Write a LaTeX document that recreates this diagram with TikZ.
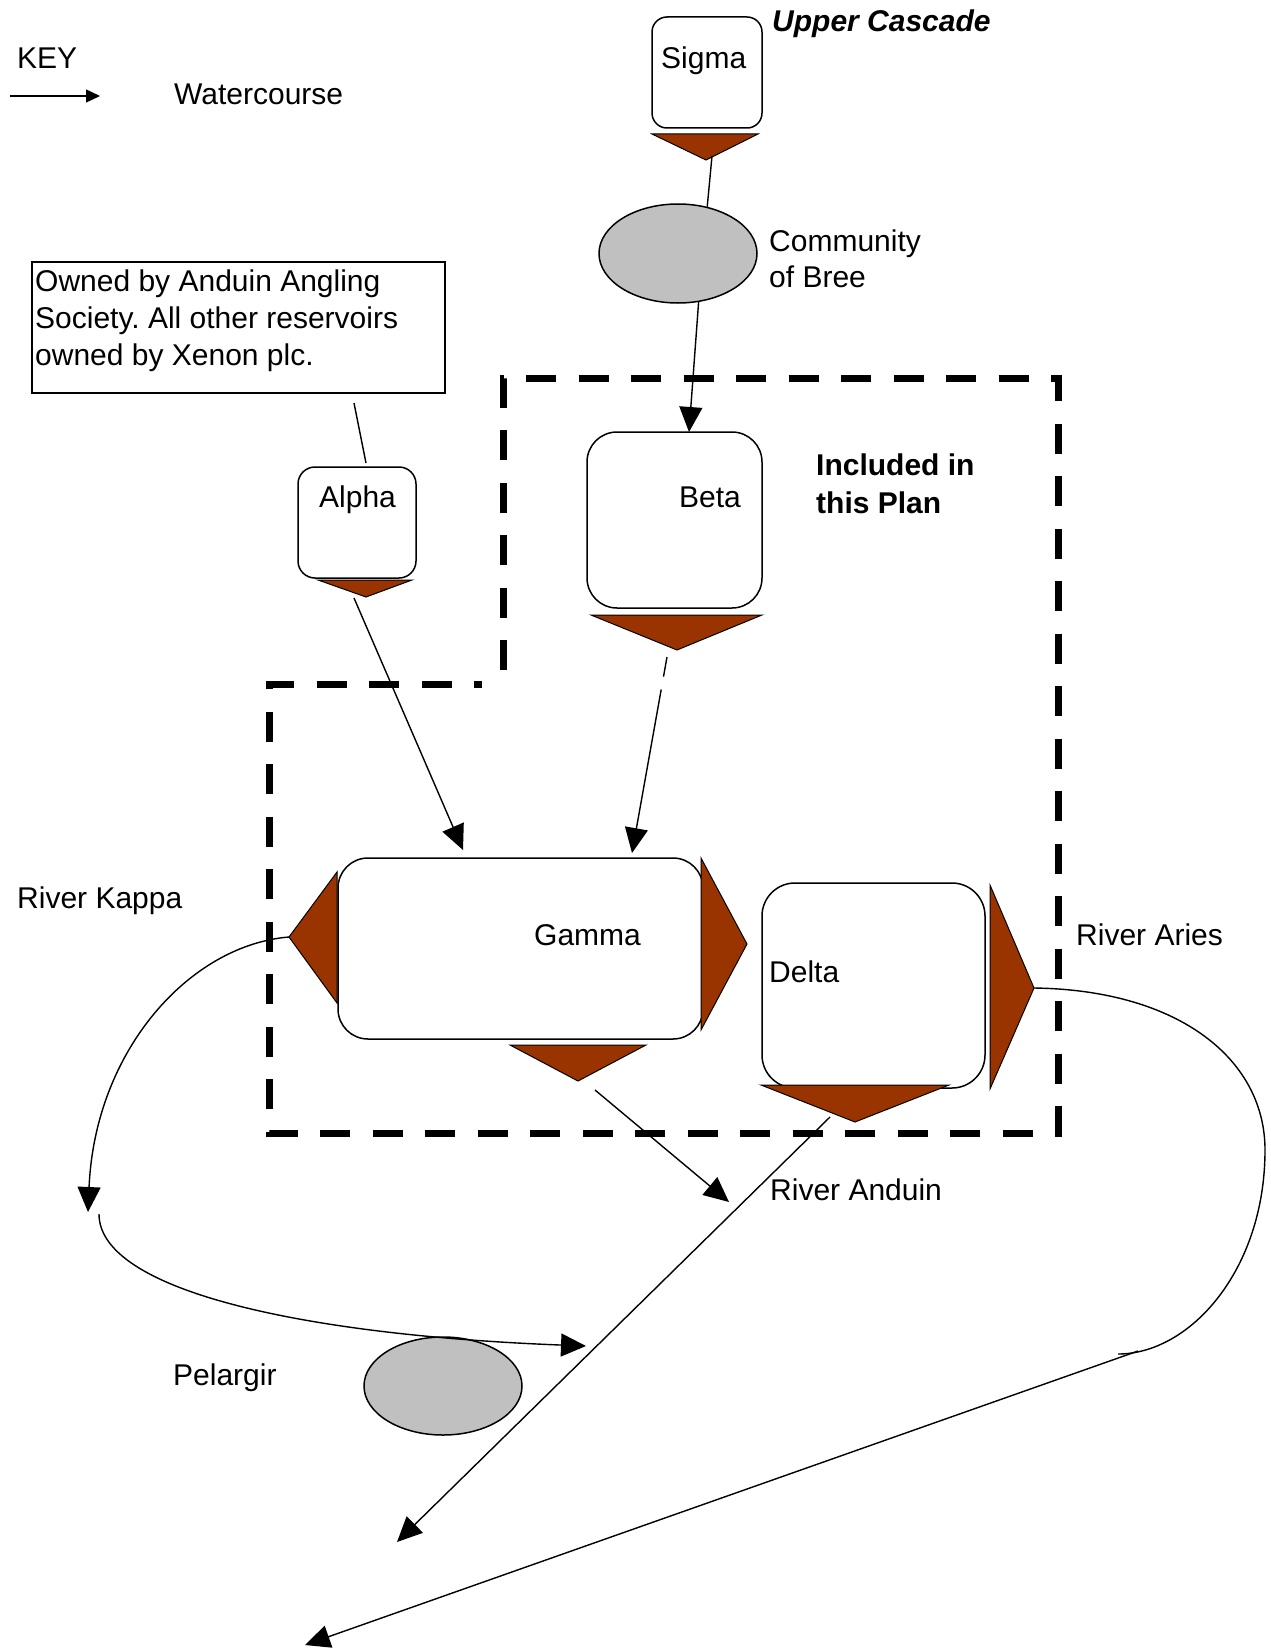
\documentclass[tikz,border=0pt]{standalone}
\usepackage{fontspec}
\setmainfont{Liberation Sans}
\usetikzlibrary{arrows.meta,shapes.geometric}
\definecolor{rust}{RGB}{153,51,0}
\definecolor{pondgrey}{RGB}{192,192,192}
\frenchspacing
\begin{document}
\begin{tikzpicture}[x=1pt,y=-1pt,
  lbl/.style={anchor=base west, inner sep=0pt, font=\fontsize{30}{36}\selectfont},
  rbox/.style={draw, line width=1.5pt, fill=white, inner sep=0pt},
  tri/.style={draw=black, line width=1pt, fill=rust, line join=miter},
  flow/.style={line width=1.4pt, -{Triangle[length=25pt,width=23pt]}},
  link/.style={line width=1.4pt},
  pond/.style={ellipse, draw, line width=1.5pt, fill=pondgrey, inner sep=0pt},
  zone/.style={line width=7pt, dash pattern=on 30pt off 22.5pt},
]
\useasboundingbox (0,0) rectangle (1270,1648);

% dashed plan boundary
\draw[zone] (503,670) -- (503,378) -- (1058,378) -- (1058,1133) -- (269,1133) -- (269,684) -- (482,684);

% key
\node[lbl] (key) at (17,69) {KEY};
\coordinate (keya) at (10,96);
\coordinate (keyb) at (100,96);
\draw[line width=1.4pt, -{Triangle[length=14pt,width=13pt]}] (keya) -- (keyb);
\node[lbl] (wc) at (174,105) {Watercourse};

% reservoirs
\node[rbox, rounded corners=15pt, minimum width=110pt, minimum height=111pt] (sigma) at (707,72.5) {};
\node[rbox, rounded corners=17pt, minimum width=118pt, minimum height=111pt] (alpha) at (357,522.5) {};
\node[rbox, rounded corners=30pt, minimum width=175pt, minimum height=176pt] (beta) at (674.5,520) {};
\node[rbox, rounded corners=30pt, minimum width=365pt, minimum height=181pt] (gamma) at (520.5,948.5) {};
\node[rbox, rounded corners=33pt, minimum width=223pt, minimum height=205pt] (delta) at (873.5,985.5) {};

% outlet triangles
\draw[tri] (652,134) -- (758,134) -- (706,160) -- cycle;
\draw[tri] (318,580) -- (412,580) -- (366,597) -- cycle;
\draw[tri] (591,615) -- (762,615) -- (677,650) -- cycle;
\draw[tri] (337,872) -- (337,1003) -- (289,937) -- cycle;
\draw[tri] (701,858) -- (701,1030) -- (747,944) -- cycle;
\draw[tri] (510,1045) -- (646,1045) -- (578,1081) -- cycle;
\draw[tri] (990,885) -- (990,1089) -- (1034,988) -- cycle;
\draw[tri] (761,1085) -- (949,1085) -- (855,1122) -- cycle;

% ponds
\node[pond, minimum width=158pt, minimum height=99pt] (bree) at (678,253.5) {};
\node[pond, minimum width=158pt, minimum height=98pt] (pel) at (443,1386) {};

% note box
\node[draw, line width=1.2pt, minimum width=413pt, minimum height=131pt, inner sep=0pt] (note) at (238.5,327.5) {};
\node[lbl] (n1) at (35,291) {Owned by Anduin Angling};
\node[lbl] (n2) at (35,328) {Society. All other reservoirs};
\node[lbl] (n3) at (35,365) {owned by Xenon plc.};

% labels
\node[lbl, font=\fontsize{30}{36}\selectfont\bfseries\itshape] (uc) at (772,32) {Upper Cascade};
\node[lbl] (sigmat) at (661,69) {Sigma};
\node[lbl] (comm1) at (769,251) {Community};
\node[lbl] (comm2) at (769,287) {of Bree};
\node[lbl, font=\fontsize{30}{36}\selectfont\bfseries] (inc1) at (816,475) {Included in};
\node[lbl, font=\fontsize{30}{36}\selectfont\bfseries] (inc2) at (816,513) {this Plan};
\node[lbl] (alphat) at (319,507) {Alpha};
\node[lbl] (betat) at (679,507) {Beta};
\node[lbl] (kappa) at (17,908) {River Kappa};
\node[lbl] (gammat) at (534,945) {Gamma};
\node[lbl] (deltat) at (769,982) {Delta};
\node[lbl] (aries) at (1076,945) {River Aries};
\node[lbl] (anduin) at (770,1200) {River Anduin};
\node[lbl] (pelt) at (173,1385) {Pelargir};

% connector end points
\coordinate (sigout) at (712,156);
\coordinate (betain) at (689,432);
\coordinate (alphaup) at (366,463);
\coordinate (noteend) at (354,403);
\coordinate (alphaout) at (354,598);
\coordinate (gammain1) at (463,850);
\coordinate (betaout) at (667,657);
\coordinate (gammain2) at (632,853);
\coordinate (gammaout) at (595,1090);
\coordinate (anduintip) at (729,1202);
\coordinate (deltaout) at (830,1117);
\coordinate (farsw) at (397,1542);
\coordinate (kappaout) at (289,937);
\coordinate (kappa1) at (88,1212);
\coordinate (kappa2) at (99,1214);
\coordinate (kappa3) at (586,1346);
\coordinate (ariesout) at (1034,988);
\coordinate (aries1) at (1118,1354);
\coordinate (aries2) at (1138,1351);
\coordinate (ariestip) at (305,1645);

% connectors
\draw[link] (sigout) -- (bree.58);
\draw[flow] (bree.-67) -- (betain);
\draw[link] (alphaup) -- (noteend);
\draw[flow] (alphaout) -- (gammain1);
\draw[flow, dash pattern=on 20pt off 13pt on 1000pt] (betaout) -- (gammain2);
\draw[flow] (gammaout) -- (anduintip);
\draw[flow] (deltaout) -- (farsw);
\draw[flow] (kappaout) .. controls (190,945) and (95,1050) .. (kappa1);
\draw[flow] (kappa2) .. controls (99,1290) and (300,1335) .. (kappa3);
\draw[link] (ariesout) .. controls (1180,990) and (1265,1060) .. (1265,1150) .. controls (1265,1270) and (1190,1354) .. (aries1);
\draw[flow] (aries2) -- (ariestip);
\end{tikzpicture}
\end{document}
